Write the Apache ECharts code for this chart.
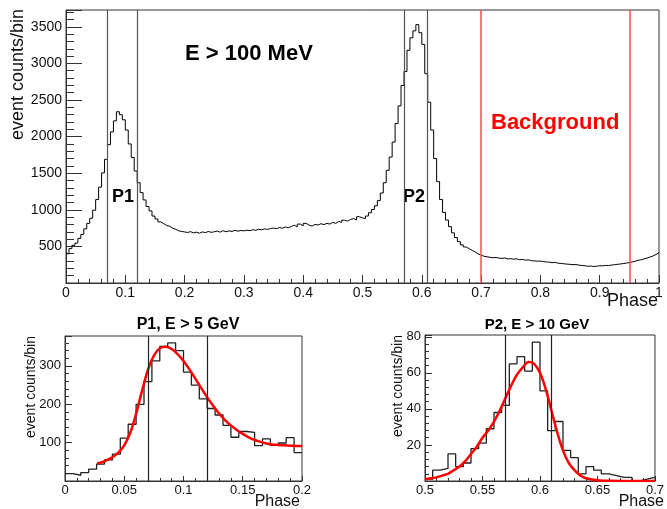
<!DOCTYPE html>
<html>
<head>
<meta charset="utf-8">
<script src="https://cdn.jsdelivr.net/npm/echarts@6/dist/echarts.min.js"></script>
<style>
html,body{margin:0;padding:0;background:#fff;}
#chart{width:667px;height:509px;}
</style>
</head>
<body>
<div id="chart"></div>
<script>
// ---------------- DATA ----------------
// Main histogram, E > 100 MeV: 200 bins of width 0.005 in phase [0,1]
const mainBinWidth = 0.005;
const mainCounts = [
  400,470,515,545,610,665,740,815,885,995,1140,1310,1505,1690,1890,2065,2215,2340,2300,2230,
  2090,1900,1715,1530,1370,1235,1135,1045,985,915,875,835,810,785,775,748,735,712,705,698,
  690,702,685,695,680,698,688,704,692,700,710,695,715,700,712,705,720,708,718,712,
  722,715,728,720,735,726,740,732,745,750,742,758,748,765,755,772,790,768,805,782,
  815,790,778,800,792,810,798,815,805,828,815,840,830,858,845,870,880,862,905,890,
  880,915,960,1005,1055,1125,1230,1370,1540,1720,1925,2180,2420,2700,2890,3180,3350,3445,3530,3420,
  3260,2860,2470,2090,1700,1385,1140,965,860,770,685,620,565,520,492,468,445,425,398,382,
  365,358,352,345,350,340,336,342,330,333,325,330,318,322,312,316,305,302,298,300,
  292,288,285,278,282,270,268,262,258,255,250,252,244,240,236,228,232,225,230,236,
  234,240,238,245,250,255,260,266,272,280,288,298,310,318,330,342,355,370,390,415
];
const p1Edges = [0.067, 0.119];
const p2Edges = [0.566, 0.608];
const bkgEdges = [0.70, 0.95];

// P1, E > 5 GeV: 30 bins over [0, 0.2]
const p1Start = 0, p1End = 0.2;
const p1Counts = [19,15,22,31,44,55,70,112,148,200,259,313,351,360,340,284,250,214,189,172,145,114,129,127,92,110,93,99,113,74];
const p1FitX = [0.027,0.03,0.035,0.04,0.045,0.05,0.055,0.06,0.065,0.07,0.075,0.08,0.085,0.09,0.095,0.1,0.105,0.11,0.115,0.12,0.125,0.13,0.135,0.14,0.145,0.15,0.155,0.16,0.165,0.17,0.175,0.18,0.185,0.19,0.195,0.2];
const p1FitY = [46,48,54,62,74,93,125,175,235,290,327,346,350,344,331,313,291,267,242,218,196,176,159,145,133,123,114,107,102,98,95,94,93,92,91,91];

// P2, E > 10 GeV: 30 bins over [0.5, 0.7]
const p2Start = 0.5, p2End = 0.7;
const p2Counts = [1,6,7,15,8,10,18,21,29,38,42,65,69,61,77,50,28,33,17,13,4,8,6,4,3,2,2,0,1,2];
const p2FitX = [0.5,0.505,0.51,0.515,0.52,0.525,0.53,0.535,0.54,0.545,0.55,0.555,0.56,0.565,0.57,0.575,0.58,0.585,0.59,0.595,0.6,0.605,0.61,0.615,0.62,0.625,0.63,0.635,0.64,0.645,0.65,0.655,0.66,0.67,0.68,0.69,0.7];
const p2FitY = [1,1.5,2,3,4,6,8,11,15,19,24,28,33,39,46,53,59,63,66,65,60,51,39,27,17,10,6,3,1.5,0.8,0.4,0.2,0.1,0,0,0,0];

// Axis tick values
const mainYTicks = [500,1000,1500,2000,2500,3000,3500];
const p1YTicks = [100,200,300];
const p2YTicks = [20,40,60,80];

// ---------------- BUILD ----------------
function stepData(start, width, counts) {
  const d = counts.map((c, i) => [start + i * width, c]);
  d.push([start + counts.length * width, counts[counts.length - 1]]);
  return d;
}
const mainData = stepData(0, mainBinWidth, mainCounts);
const p1Data = stepData(p1Start, (p1End - p1Start) / p1Counts.length, p1Counts);
const p2Data = stepData(p2Start, (p2End - p2Start) / p2Counts.length, p2Counts);
const p1Fit = p1FitX.map((x, i) => [x, p1FitY[i]]);
const p2Fit = p2FitX.map((x, i) => [x, p2FitY[i]]);

const FF = '"Liberation Sans", Arial, Helvetica, sans-serif';
const AX = '#333';

function xAxisCfg(grid, min, max, interval, fs, tickLen, mtLen) {
  return {
    gridIndex: grid, type: 'value', min: min, max: max, interval: interval,
    axisLine: {show: true, onZero: false, lineStyle: {color: AX, width: 1}},
    axisTick: {show: true, inside: true, length: tickLen, lineStyle: {color: AX}},
    minorTick: {show: true, splitNumber: 5, length: mtLen, lineStyle: {color: AX}},
    splitLine: {show: false},
    axisLabel: {fontSize: fs, color: '#111', fontFamily: FF, margin: 3,
      formatter: v => String(Math.round(v * 1000) / 1000)}
  };
}
function yAxisCfg(grid, max, interval, ticks, fs, tickLen, mtLen) {
  return {
    gridIndex: grid, type: 'value', min: 0, max: max, interval: interval,
    axisLine: {show: true, onZero: false, lineStyle: {color: AX, width: 1}},
    axisTick: {show: true, inside: true, length: tickLen, lineStyle: {color: AX}},
    minorTick: {show: true, splitNumber: 5, length: mtLen, lineStyle: {color: AX}},
    splitLine: {show: false},
    axisLabel: {fontSize: fs, color: '#111', fontFamily: FF, margin: 4,
      formatter: v => (Math.abs(v - Math.round(v)) < 1e-6 && ticks.indexOf(Math.round(v)) >= 0) ? String(Math.round(v)) : ''}
  };
}
function vlines(edges, color, width) {
  return edges.map(e => ({xAxis: e, lineStyle: {color: color, width: width, type: 'solid'}}));
}

const option = {
  animation: false,
  backgroundColor: '#fff',
  grid: [
    {left: 66, top: 10, width: 593, height: 273, show: true, borderColor: AX, borderWidth: 1},
    {left: 65, top: 336, width: 237, height: 145, show: true, borderColor: AX, borderWidth: 1},
    {left: 425, top: 335, width: 236, height: 146, show: true, borderColor: AX, borderWidth: 1}
  ],
  xAxis: [
    xAxisCfg(0, 0, 1, 0.1, 14, 8, 4),
    xAxisCfg(1, p1Start, p1End, 0.05, 13, 5, 3),
    xAxisCfg(2, p2Start, p2End, 0.05, 13, 5, 3)
  ],
  yAxis: [
    yAxisCfg(0, 3730, 500, mainYTicks, 14, 16, 8),
    yAxisCfg(1, 378, 100, p1YTicks, 13, 7, 4),
    yAxisCfg(2, 81, 20, p2YTicks, 13, 7, 4)
  ],
  series: [
    {
      type: 'line', xAxisIndex: 0, yAxisIndex: 0, step: 'end', data: mainData,
      showSymbol: false, symbol: 'none', silent: true,
      lineStyle: {color: '#000', width: 1},
      markLine: {
        symbol: ['none', 'none'], silent: true, label: {show: false},
        data: vlines(p1Edges, '#555', 1.2).concat(vlines(p2Edges, '#555', 1.2)).concat(vlines(bkgEdges, '#ff4d4d', 1.5))
      }
    },
    {
      type: 'line', xAxisIndex: 1, yAxisIndex: 1, step: 'end', data: p1Data,
      showSymbol: false, symbol: 'none', silent: true,
      lineStyle: {color: '#222', width: 1.3},
      markLine: {symbol: ['none', 'none'], silent: true, label: {show: false},
        data: vlines(p1Edges, '#222', 1.2)}
    },
    {
      type: 'line', xAxisIndex: 1, yAxisIndex: 1, data: p1Fit, smooth: 0.3,
      showSymbol: false, symbol: 'none', silent: true,
      lineStyle: {color: '#ff0000', width: 2.5}
    },
    {
      type: 'line', xAxisIndex: 2, yAxisIndex: 2, step: 'end', data: p2Data,
      showSymbol: false, symbol: 'none', silent: true,
      lineStyle: {color: '#222', width: 1.3},
      markLine: {symbol: ['none', 'none'], silent: true, label: {show: false},
        data: vlines(p2Edges, '#222', 1.2)}
    },
    {
      type: 'line', xAxisIndex: 2, yAxisIndex: 2, data: p2Fit, smooth: 0.3,
      showSymbol: false, symbol: 'none', silent: true,
      lineStyle: {color: '#ff0000', width: 2.5}
    }
  ],
  graphic: [
    {type: 'text', x: 18, y: 9, rotation: Math.PI / 2, silent: true,
      style: {text: 'event counts/bin', font: '18px ' + FF, fill: '#111', align: 'right', verticalAlign: 'middle'}},
    {type: 'text', x: 658, y: 301, silent: true,
      style: {text: 'Phase', font: '18px ' + FF, fill: '#111', align: 'right', verticalAlign: 'middle'}},
    {type: 'text', x: 185, y: 54, silent: true,
      style: {text: 'E > 100 MeV', font: 'bold 22px ' + FF, fill: '#000', align: 'left', verticalAlign: 'middle'}},
    {type: 'text', x: 491, y: 123, silent: true,
      style: {text: 'Background', font: 'bold 22px ' + FF, fill: '#ff0000', align: 'left', verticalAlign: 'middle'}},
    {type: 'text', x: 112, y: 197, silent: true,
      style: {text: 'P1', font: 'bold 18px ' + FF, fill: '#000', align: 'left', verticalAlign: 'middle'}},
    {type: 'text', x: 403, y: 197, silent: true,
      style: {text: 'P2', font: 'bold 18px ' + FF, fill: '#000', align: 'left', verticalAlign: 'middle'}},

    {type: 'text', x: 188, y: 325, silent: true,
      style: {text: 'P1, E > 5 GeV', font: 'bold 16px ' + FF, fill: '#000', align: 'center', verticalAlign: 'middle'}},
    {type: 'text', x: 31, y: 336, rotation: Math.PI / 2, silent: true,
      style: {text: 'event counts/bin', font: '14px ' + FF, fill: '#111', align: 'right', verticalAlign: 'middle'}},
    {type: 'text', x: 300, y: 502, silent: true,
      style: {text: 'Phase', font: '16px ' + FF, fill: '#111', align: 'right', verticalAlign: 'middle'}},

    {type: 'text', x: 537, y: 325, silent: true,
      style: {text: 'P2, E > 10 GeV', font: 'bold 15px ' + FF, fill: '#000', align: 'center', verticalAlign: 'middle'}},
    {type: 'text', x: 398, y: 335, rotation: Math.PI / 2, silent: true,
      style: {text: 'event counts/bin', font: '14px ' + FF, fill: '#111', align: 'right', verticalAlign: 'middle'}},
    {type: 'text', x: 664, y: 502, silent: true,
      style: {text: 'Phase', font: '16px ' + FF, fill: '#111', align: 'right', verticalAlign: 'middle'}}
  ]
};

const chart = echarts.init(document.getElementById('chart'), null, {renderer: 'canvas'});
chart.setOption(option);
</script>
</body>
</html>
